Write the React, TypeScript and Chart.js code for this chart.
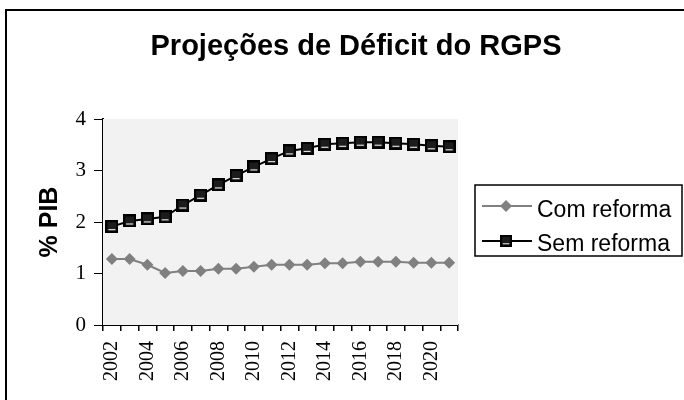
import React, { useEffect, useRef } from "react";
import { Chart, registerables } from "chart.js";

Chart.register(...registerables);

const years = ["2002","2003","2004","2005","2006","2007","2008","2009","2010","2011","2012","2013","2014","2015","2016","2017","2018","2019","2020","2021"];
const comReforma = [1.28,1.28,1.17,1.01,1.05,1.05,1.09,1.09,1.13,1.17,1.17,1.17,1.20,1.20,1.23,1.23,1.23,1.21,1.21,1.21];
const semReforma = [1.91,2.02,2.06,2.10,2.33,2.52,2.72,2.90,3.07,3.23,3.38,3.43,3.51,3.53,3.55,3.55,3.53,3.51,3.48,3.46];
const yTicks = [0, 1, 2, 3, 4];
const titleText = "Projeções de Déficit do RGPS";
const yTitle = "% PIB";
const seriesNames = ["Com reforma", "Sem reforma"];

function makeSquare(): HTMLCanvasElement {
  const c = document.createElement("canvas");
  c.width = 13; c.height = 13;
  const g = c.getContext("2d")!;
  g.fillStyle = "#000";
  g.fillRect(0, 0, 13, 13);
  g.fillStyle = "#1c1c1c";
  g.fillRect(2, 2, 9, 9);
  g.fillStyle = "#fff";
  g.fillRect(3, 9, 7, 1);
  return c;
}

const decor = {
  id: "decor",
  afterDraw(chart: any) {
    const ctx = chart.ctx;
    ctx.save();
    ctx.strokeStyle = "#000";
    ctx.lineWidth = 2;
    ctx.strokeRect(6, 10, 700, 420);
    ctx.fillStyle = "#000";
    ctx.font = "bold 29px 'Liberation Sans', Arial, sans-serif";
    ctx.textAlign = "center";
    ctx.textBaseline = "alphabetic";
    ctx.fillText(titleText, 356, 55);
    ctx.save();
    ctx.translate(57, 222);
    ctx.rotate(-Math.PI / 2);
    ctx.font = "bold 25px 'Liberation Sans', Arial, sans-serif";
    ctx.textAlign = "center";
    ctx.textBaseline = "alphabetic";
    ctx.fillText(yTitle, 0, 0);
    ctx.restore();
    const bx = 475, by = 185, bw = 207, bh = 71;
    ctx.fillStyle = "#fff";
    ctx.fillRect(bx, by, bw, bh);
    ctx.lineWidth = 1.5;
    ctx.strokeStyle = "#000";
    ctx.strokeRect(bx, by, bw, bh);
    const rows = [206, 241];
    const baselines = [216.5, 250.5];
    chart.data.datasets.forEach((ds: any, i: number) => {
      const y = rows[i];
      ctx.strokeStyle = ds.borderColor;
      ctx.lineWidth = 2;
      ctx.beginPath();
      ctx.moveTo(482, y);
      ctx.lineTo(532, y);
      ctx.stroke();
      if (i === 0) {
        ctx.fillStyle = ds.pointBackgroundColor;
        ctx.beginPath();
        ctx.moveTo(506, y - 6);
        ctx.lineTo(512, y);
        ctx.lineTo(506, y + 6);
        ctx.lineTo(500, y);
        ctx.closePath();
        ctx.fill();
      } else {
        ctx.drawImage(ds.pointStyle, 500, y - 6, 12, 12);
      }
      ctx.fillStyle = "#000";
      ctx.font = "23px 'Liberation Sans', Arial, sans-serif";
      ctx.textAlign = "left";
      ctx.textBaseline = "alphabetic";
      ctx.fillText(ds.label, 537, baselines[i]);
    });
    ctx.restore();
  },
  beforeDatasetsDraw(chart: any) {
    const { ctx, chartArea } = chart;
    ctx.save();
    ctx.fillStyle = "#f2f2f2";
    ctx.fillRect(chartArea.left, chartArea.top, chartArea.right - chartArea.left, chartArea.bottom - chartArea.top);
    ctx.restore();
  },
};

export default function App() {
  const ref = useRef<HTMLCanvasElement>(null);
  useEffect(() => {
    const sq = makeSquare();
    const chart = new Chart(ref.current!, {
      type: "line",
      data: {
        labels: years,
        datasets: [
          {
            label: seriesNames[0],
            data: comReforma,
            borderColor: "#808080",
            backgroundColor: "#808080",
            pointBackgroundColor: "#808080",
            pointBorderColor: "#808080",
            pointStyle: "rectRot",
            pointRadius: 6,
            pointBorderWidth: 0,
            borderWidth: 2,
            tension: 0,
          },
          {
            label: seriesNames[1],
            data: semReforma,
            borderColor: "#000",
            backgroundColor: "#000",
            pointStyle: sq as any,
            pointRadius: 6,
            borderWidth: 2,
            tension: 0,
          },
        ],
      },
      options: {
        responsive: false,
        animation: false,
        layout: { padding: { top: 119, right: 226, left: 0, bottom: 0 } },
        plugins: { legend: { display: false }, title: { display: false }, tooltip: { enabled: false } },
        scales: {
          x: {
            type: "category",
            offset: true,
            afterFit: (s: any) => { s.height = 75; },
            grid: { offset: true, drawOnChartArea: false, drawTicks: true, tickLength: 6, color: "#000", lineWidth: 1.5 },
            border: { color: "#000", width: 2 },
            ticks: {
              autoSkip: false,
              maxRotation: 90,
              minRotation: 90,
              padding: 10,
              color: "#000",
              font: { family: "'Liberation Serif', 'Times New Roman', serif", size: 20 },
              callback: (_v: any, i: number) => (i % 2 === 0 ? years[i] : ""),
            },
          },
          y: {
            min: 0,
            max: 4,
            afterFit: (s: any) => { s.width = 103; },
            afterBuildTicks: (s: any) => { s.ticks = yTicks.map((v) => ({ value: v })); },
            grid: { color: "#000", lineWidth: 1, tickLength: 9 },
            border: { color: "#000", width: 2 },
            ticks: {
              padding: 8,
              color: "#000",
              font: { family: "'Liberation Serif', 'Times New Roman', serif", size: 21 },
            },
          },
        },
      },
      plugins: [decor],
    });
    return () => chart.destroy();
  }, []);
  return (
    <div style={{ position: "absolute", left: 0, top: 0, width: 684, height: 400, background: "#fff" }}>
      <canvas ref={ref} width={684} height={400} />
    </div>
  );
}
